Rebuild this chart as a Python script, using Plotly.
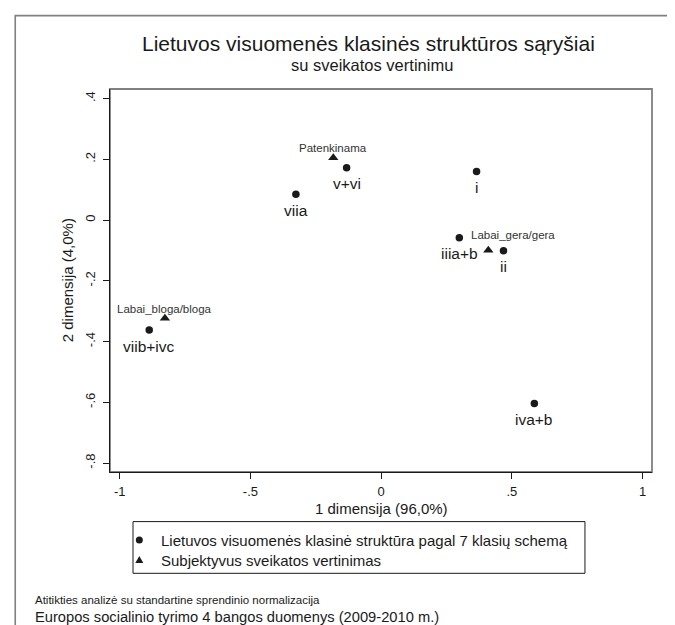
import plotly.graph_objects as go

# ---- data ----
class_labels = ["v+vi", "viia", "i", "iiia+b", "ii", "viib+ivc", "iva+b"]
class_x = [-0.132, -0.326, 0.365, 0.299, 0.468, -0.887, 0.586]
class_y = [0.172, 0.085, 0.160, -0.058, -0.101, -0.362, -0.604]

health_labels = ["Patenkinama", "Labai_gera/gera", "Labai_bloga/bloga"]
health_x = [-0.183, 0.410, -0.827]
health_y = [0.205, -0.099, -0.323]

x_tickvals = [-1, -0.5, 0, 0.5, 1]
x_ticktext = ["-1", "-.5", "0", ".5", "1"]
y_tickvals = [0.4, 0.2, 0, -0.2, -0.4, -0.6, -0.8]
y_ticktext = [".4", ".2", "0", "-.2", "-.4", "-.6", "-.8"]

title_text = "Lietuvos visuomenės klasinės struktūros sąryšiai"
subtitle_text = "su sveikatos vertinimu"
xaxis_title = "1 dimensija (96,0%)"
yaxis_title = "2 dimensija (4,0%)"
legend_texts = ["Lietuvos visuomenės klasinė struktūra pagal 7 klasių schemą",
                "Subjektyvus sveikatos vertinimas"]
note1 = "Atitikties analizė su standartine sprendinio normalizacija"
note2 = "Europos socialinio tyrimo 4 bangos duomenys (2009-2010 m.)"

# ---- layout geometry (pixels) ----
W, H = 675, 625
L, R, T, B = 102, 643.7, 80.7, 463.7
FONT = "Liberation Sans, Arial, Helvetica, sans-serif"
INK = "#1a1a1a"
GRAY = "#808080"


def px(x):
    return (x - L) / (R - L)


def py(y):
    return (B - y) / (B - T)


fig = go.Figure()

fig.add_trace(go.Scatter(
    x=class_x, y=class_y, mode="markers",
    marker=dict(symbol="circle", size=7.5, color=INK),
    name=legend_texts[0], showlegend=False, hoverinfo="skip"))
fig.add_trace(go.Scatter(
    x=health_x, y=health_y, mode="markers",
    marker=dict(symbol="triangle-up", size=9, color=INK),
    name=legend_texts[1], showlegend=False, hoverinfo="skip"))

annotations = []
# point labels (below circles)
for lab, xv, yv in zip(class_labels, class_x, class_y):
    annotations.append(dict(x=xv, y=yv, xref="x", yref="y", text=lab,
                            showarrow=False, xanchor="center", yanchor="middle",
                            yshift=-16, font=dict(family=FONT, size=15.5, color=INK)))
# triangle labels
tri_offsets = {"Patenkinama": ("center", 0, 9.5),
               "Labai_gera/gera": ("left", -19, 15.3),
               "Labai_bloga/bloga": ("center", 0, 9.5)}
for lab, xv, yv in zip(health_labels, health_x, health_y):
    anc, dx, dy = tri_offsets[lab]
    annotations.append(dict(x=xv, y=yv, xref="x", yref="y", text=lab,
                            showarrow=False, xanchor=anc, yanchor="middle",
                            xshift=dx, yshift=dy,
                            font=dict(family=FONT, size=11.5, color="#333333")))

# titles
annotations.append(dict(x=px(360.6), y=py(35), xref="paper", yref="paper",
                        text=title_text, showarrow=False, xanchor="center", yanchor="middle",
                        font=dict(family=FONT, size=21, color=INK)))
annotations.append(dict(x=px(363.5), y=py(57), xref="paper", yref="paper",
                        text=subtitle_text, showarrow=False, xanchor="center", yanchor="middle",
                        font=dict(family=FONT, size=16.5, color=INK)))
annotations.append(dict(x=px(373), y=py(500), xref="paper", yref="paper",
                        text=xaxis_title, showarrow=False, xanchor="center", yanchor="middle",
                        font=dict(family=FONT, size=15, color=INK)))
annotations.append(dict(x=px(59), y=py(272), xref="paper", yref="paper",
                        text=yaxis_title, showarrow=False, xanchor="center", yanchor="middle",
                        textangle=-90, font=dict(family=FONT, size=15, color=INK)))

# legend texts
leg_rows = [531.7, 551.7]
for txt, ry in zip(legend_texts, leg_rows):
    annotations.append(dict(x=px(150.7), y=py(ry), xref="paper", yref="paper",
                            text=txt, showarrow=False, xanchor="left", yanchor="middle",
                            font=dict(family=FONT, size=15, color=INK)))
# footnotes
annotations.append(dict(x=px(25), y=py(591.7), xref="paper", yref="paper",
                        text=note1, showarrow=False, xanchor="left", yanchor="middle",
                        font=dict(family=FONT, size=11.5, color=INK)))
annotations.append(dict(x=px(25.5), y=py(609), xref="paper", yref="paper",
                        text=note2, showarrow=False, xanchor="left", yanchor="middle",
                        font=dict(family=FONT, size=14.7, color=INK)))

shapes = []
# outer frame
shapes.append(dict(type="rect", xref="paper", yref="paper",
                   x0=px(7.3), x1=px(667.5), y0=py(7.3), y1=py(640),
                   line=dict(color=GRAY, width=1.6), layer="below"))
# plot region border (top/right gray)
shapes.append(dict(type="rect", xref="paper", yref="paper",
                   x0=0, x1=1, y0=0, y1=1,
                   line=dict(color=GRAY, width=1.8), layer="below"))
# legend box
shapes.append(dict(type="rect", xref="paper", yref="paper",
                   x0=px(125), x1=px(576.7), y0=py(565), y1=py(513.3),
                   line=dict(color=INK, width=1)))
# legend symbols
cx, r = 131.3, 3.5
shapes.append(dict(type="circle", xref="paper", yref="paper",
                   x0=px(cx - r), x1=px(cx + r), y0=py(leg_rows[0] + r), y1=py(leg_rows[0] - r),
                   fillcolor=INK, line=dict(color=INK, width=0)))
ty = leg_rows[1]
shapes.append(dict(type="path", xref="paper", yref="paper",
                   path=f"M {px(cx-4)} {py(ty+3)} L {px(cx+4)} {py(ty+3)} L {px(cx)} {py(ty-4)} Z",
                   fillcolor=INK, line=dict(color=INK, width=0)))

fig.update_layout(
    width=W, height=H,
    margin=dict(l=L, r=W - R, t=T, b=H - B, pad=0),
    paper_bgcolor="white", plot_bgcolor="white",
    showlegend=False,
    annotations=annotations, shapes=shapes,
    font=dict(family=FONT, color=INK),
)
fig.update_xaxes(range=[-1.037, 1.036], tickvals=x_tickvals, ticktext=x_ticktext,
                 showgrid=False, zeroline=False, showline=True, linecolor=INK, linewidth=1.3,
                 ticks="outside", ticklen=6, tickcolor=INK, tickwidth=1,
                 tickfont=dict(family=FONT, size=13, color=INK), ticklabelstandoff=1)
fig.update_yaxes(range=[-0.8296, 0.4316], tickvals=y_tickvals, ticktext=y_ticktext,
                 showgrid=False, zeroline=False, showline=True, linecolor=INK, linewidth=1.3,
                 ticks="outside", ticklen=6, tickcolor=INK, tickwidth=1, tickangle=-90,
                 tickfont=dict(family=FONT, size=13, color=INK), ticklabelstandoff=3)

fig.write_html("out.html")
